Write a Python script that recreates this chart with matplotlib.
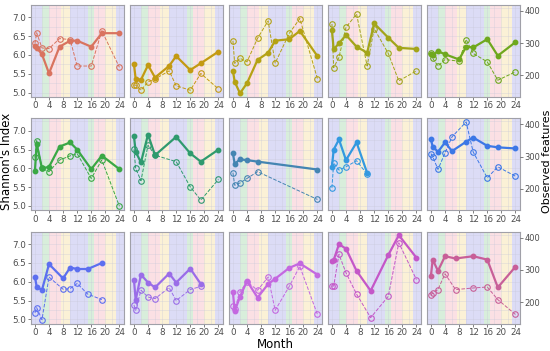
import matplotlib
matplotlib.use("Agg")
import matplotlib.pyplot as plt
from matplotlib.ticker import MultipleLocator

# data: one entry per panel (row by row, 3 rows x 5 columns)
months = [
    [0, 0.5, 2, 4, 7, 10, 12, 16, 19, 24],
    [0, 0.5, 2, 4, 6, 10, 12, 16, 19, 24],
    [0, 0.5, 2, 4, 7, 10, 12, 16, 19, 24],
    [0, 0.5, 2, 4, 7, 10, 12, 16, 19, 24],
    [0, 0.5, 2, 4, 8, 10, 12, 16, 19, 24],
    [0, 0.5, 2, 4, 7, 10, 12, 16, 19, 24],
    [0, 0.5, 2, 4, 6, 12, 16, 19, 24],
    [0, 0.5, 2, 4, 7, 24],
    [0, 0.5, 2, 4, 7, 10],
    [0, 0.5, 2, 4, 6, 10, 12, 16, 19, 24],
    [0, 0.5, 2, 4, 8, 10, 12, 15, 19],
    [0, 0.5, 2, 4, 6, 10, 12, 16, 19],
    [0, 0.5, 2, 4, 7, 10, 12, 16, 19, 24],
    [0, 0.5, 2, 4, 7, 11, 16, 19, 24],
    [0, 0.5, 2, 4, 7, 12, 16, 19, 24],
]

shannon = [
    [6.25, 6.19, 6.02, 5.51, 6.22, 6.38, 6.38, 6.22, 6.58, 6.58],
    [5.76, 5.36, 5.34, 5.73, 5.40, 5.71, 5.97, 5.60, 5.78, 6.09],
    [5.58, 5.29, 4.98, 5.25, 5.87, 6.06, 6.38, 6.42, 6.64, 5.97],
    [6.66, 6.15, 6.31, 6.53, 6.22, 6.06, 6.84, 6.46, 6.19, 6.16],
    [6.03, 6.00, 6.10, 6.02, 5.88, 6.22, 6.20, 6.42, 5.98, 6.34],
    [5.93, 6.66, 6.00, 6.04, 6.58, 6.69, 6.50, 5.98, 6.34, 5.98],
    [6.86, 6.44, 6.16, 6.90, 6.35, 6.84, 6.40, 6.18, 6.50],
    [6.40, 6.12, 6.24, 6.22, 6.18, 5.97],
    [6.04, 6.50, 6.77, 6.22, 6.69, 5.88],
    [6.77, 6.58, 6.44, 6.69, 6.46, 6.71, 6.82, 6.60, 6.56, 6.53],
    [6.13, 5.87, 5.78, 6.47, 6.09, 6.38, 6.34, 6.34, 6.50],
    [6.06, 5.51, 6.19, 5.98, 5.85, 6.22, 5.98, 6.35, 5.94],
    [5.72, 5.22, 5.60, 6.02, 5.58, 5.94, 6.08, 6.37, 6.49, 6.19],
    [6.56, 6.58, 7.00, 6.88, 6.29, 5.76, 6.71, 7.24, 6.64],
    [6.16, 6.59, 6.29, 6.68, 6.62, 6.68, 6.59, 5.85, 6.40],
]

observed = [
    [299, 332, 285, 283, 314, 311, 229, 229, 338, 225],
    [170, 170, 154, 180, 189, 214, 168, 154, 206, 158],
    [307, 237, 253, 242, 315, 369, 238, 330, 376, 190],
    [359, 224, 256, 349, 390, 229, 345, 268, 183, 214],
    [268, 253, 229, 249, 244, 311, 268, 242, 185, 211],
    [297, 349, 263, 253, 289, 302, 309, 232, 289, 146],
    [322, 263, 225, 335, 304, 284, 206, 165, 229],
    [250, 211, 218, 232, 253, 167],
    [203, 280, 258, 268, 287, 245],
    [309, 300, 260, 311, 361, 407, 314, 234, 268, 239],
    [167, 183, 146, 278, 240, 242, 258, 225, 208],
    [191, 175, 237, 216, 211, 245, 205, 239, 249],
    [187, 178, 232, 263, 237, 278, 175, 249, 311, 162],
    [250, 250, 348, 291, 225, 152, 218, 384, 270],
    [221, 229, 239, 288, 239, 244, 247, 208, 162],
]

colors = ['#d9735f', '#c39a12', '#b5a214', '#a3a51a', '#6fa81e',
          '#3aa845', '#2e9a6e', '#4485b2', '#3399e0', '#3c78e6',
          '#5c6ff0', '#9a6de8', '#c468e0', '#c457c8', '#c85f98']

# season bands (start, end, colour)
seasons = [(-2, 2, '#dcdcf6'), (2, 4, '#d8eedb'), (4, 7.3, '#fbe0e4'),
           (7.3, 10, '#fbf1d6'), (10, 15, '#dcdcf6'), (15, 16.8, '#d8eedb'),
           (16.8, 20, '#fbe0e4'), (20, 23, '#fbf1d6'), (23, 27, '#dcdcf6')]

W, H = 550, 351
fig = plt.figure(figsize=(W / 100, H / 100), dpi=100)

grey = '#4d4d4d'
for i in range(15):
    r, c = divmod(i, 5)
    left = (30.7 + 99 * c) / W
    top = 5 + 113.4 * r
    ax = fig.add_axes([left, 1 - (top + 91.7) / H, 93.3 / W, 91.7 / H])
    for s, e, col in seasons:
        ax.axvspan(s, e, color=col, lw=0, zorder=0)
    ax.set_xlim(-1.2, 25.3)
    ax.set_ylim(4.89, 7.33)
    ax.set_xticks(range(0, 25, 4))
    ax.xaxis.set_minor_locator(MultipleLocator(2))
    ax.set_yticks([5.0, 5.5, 6.0, 6.5, 7.0])
    ax.yaxis.set_minor_locator(MultipleLocator(0.25))
    ax.grid(which='both', color='#c8c8d8', lw=0.4, alpha=0.6, zorder=1)
    ax.set_axisbelow(True)
    ax.tick_params(labelsize=6.3, colors=grey, length=2, width=0.5, pad=1.2)
    ax.tick_params(which='minor', length=0)
    if c != 0:
        ax.tick_params(axis='y', labelleft=False, length=0)
    for sp in ax.spines.values():
        sp.set_color('#a0a0a8')
        sp.set_linewidth(0.8)

    ax2 = ax.twinx()
    ax2.set_ylim(134, 418)
    ax2.set_yticks([200, 300, 400])
    ax2.tick_params(labelsize=6, colors=grey, length=2, width=0.5, pad=1)
    if c != 4:
        ax2.tick_params(axis='y', labelright=False, length=0)
    for sp in ax2.spines.values():
        sp.set_visible(False)

    ax2.plot(months[i], observed[i], ls='--', lw=0.7, color=colors[i],
             marker='o', ms=4, mfc='none', mew=0.8, zorder=3)
    ax.plot(months[i], shannon[i], ls='-', lw=1.6, color=colors[i],
            marker='o', ms=3.2, zorder=4)

fig.text(7 / W, 0.54, "Shannon's Index", rotation=90, ha='center', va='center',
         fontsize=8.5)
fig.text(546.5 / W, 0.54, "Observed features", rotation=90, ha='center',
         va='center', fontsize=8)
fig.text(275 / W, 7 / H, "Month", ha='center', va='center', fontsize=8.5)

fig.savefig("out.png", dpi=100)
